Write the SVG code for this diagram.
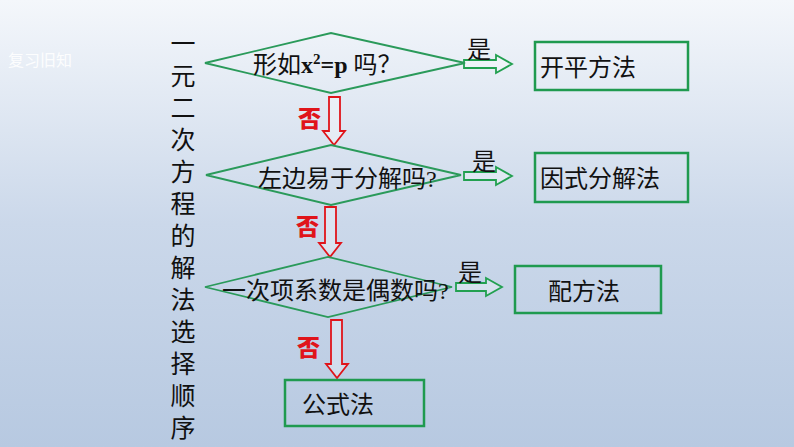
<svg xmlns="http://www.w3.org/2000/svg" width="794" height="447" viewBox="0 0 794 447">
<defs>
<linearGradient id="bg" x1="0" y1="0" x2="0" y2="1">
<stop offset="0" stop-color="#f4f7fb"/><stop offset="0.5" stop-color="#cbd8ea"/><stop offset="1" stop-color="#b7c9e1"/>
</linearGradient>
</defs>
<style>
.d{fill:none;stroke:#2a9a5a;stroke-width:1.8}
.b{fill:none;stroke:#1f9a4f;stroke-width:2.5}
.ra{fill:#fff;fill-opacity:0.3;stroke:#e0141a;stroke-width:1.8}
.ga{fill:#fff;fill-opacity:0.3;stroke:#22a050;stroke-width:1.8}
.t{font-family:"Liberation Serif","Noto Sans CJK SC",serif;font-size:24px;fill:#111}
.v{font-family:"Noto Sans CJK SC",sans-serif;font-size:25px;fill:#111}
.no{font-family:"Noto Sans CJK SC",sans-serif;font-weight:900;font-size:23px;fill:#e0141a}
</style>
<rect width="794" height="447" fill="url(#bg)"/>
<text x="8" y="66" font-family="Noto Sans CJK SC,sans-serif" font-size="16" fill="#fff" fill-opacity="0.9">复习旧知</text>
<g id="title" class="v" text-anchor="middle">
<text x="183" y="53">一</text><text x="183" y="85">元</text><text x="183" y="117">二</text><text x="183" y="149">次</text><text x="183" y="181">方</text><text x="183" y="213">程</text><text x="183" y="245">的</text><text x="183" y="277">解</text><text x="183" y="309">法</text><text x="183" y="341">选</text><text x="183" y="373">择</text><text x="183" y="405">顺</text><text x="183" y="437">序</text>
</g>
<g id="connectors">
<path class="ra" d="M329,97 H340 V131 H345 L334,145 L323,131 H329 Z"/>
<path class="ra" d="M325,207 H336 V243 H341 L330,257 L319,243 H325 Z"/>
<path class="ra" d="M331,320 H342 V364 H348 L337,378 L326,364 H331 Z"/>
<path class="ga" d="M464,60 H496 V55 L512,64 L496,73 V68 H464 Z"/>
<path class="ga" d="M464,172 H496 V167 L512,176 L496,185 V180 H464 Z"/>
<path class="ga" d="M456,283 H486 V278 L502,287 L486,296 V291 H456 Z"/>
<text class="no" x="298" y="127">否</text>
<text class="no" x="296" y="235">否</text>
<text class="no" x="297" y="356">否</text>
<text class="t" x="467" y="58">是</text>
<text class="t" x="472" y="170">是</text>
<text class="t" x="458" y="281">是</text>
</g>
<g id="q1"><polygon class="d" points="205,63 331,33 465,63 331,93"/>
<text class="t" x="253" y="73">形如<tspan font-weight="bold">x</tspan><tspan font-weight="bold" font-size="15" dy="-9">2</tspan><tspan font-weight="bold" dy="9">=p</tspan> 吗？</text></g>
<g id="q2"><polygon class="d" points="206,175 331,145 461,175 331,205"/>
<text class="t" x="258" y="187">左边易于分解吗?</text></g>
<g id="q3"><polygon class="d" points="205,287 328,257 452,287 328,317"/>
<text class="t" x="222" y="299">一次项系数是偶数吗?</text></g>
<g id="r1"><rect class="b" x="535" y="42" width="153" height="48"/><text class="t" x="540" y="76">开平方法</text></g>
<g id="r2"><rect class="b" x="535" y="153" width="153" height="49"/><text class="t" x="540" y="187">因式分解法</text></g>
<g id="r3"><rect class="b" x="515" y="266" width="146" height="47"/><text class="t" x="548" y="300">配方法</text></g>
<g id="r4"><rect class="b" x="285" y="380" width="139" height="46"/><text class="t" x="302" y="413">公式法</text></g>
</svg>
